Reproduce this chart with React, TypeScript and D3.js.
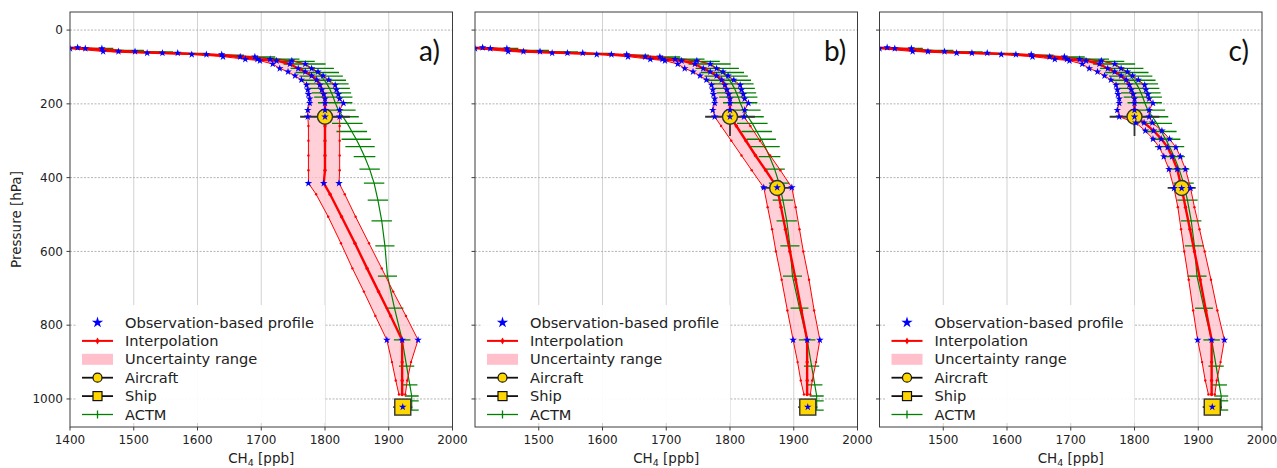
import React from "react";
import * as d3 from "d3";

const W = 1277;
const H = 468;
const TOP = 12;
const BOTTOM = 427;
const PW = 382.5;
const FONT = "'DejaVu Sans', sans-serif";

// stratospheric part, identical in the three panels (hPa / ppb)
const topLevels = [47, 50, 58, 62, 66, 72, 79, 83, 92, 104, 113, 124, 135, 149, 162, 174, 186, 198, 217];
const topLow = [1364, 1400, 1452, 1521, 1591, 1640, 1675, 1698, 1718, 1729, 1742, 1753, 1763, 1771, 1773, 1774, 1776, 1776, 1773];
const topMid = [1388, 1424, 1476, 1545, 1614, 1667, 1694, 1724, 1745, 1758, 1769, 1779, 1787, 1792, 1795, 1798, 1800, 1800, 1800];
const topHigh = [1412, 1450, 1502, 1569, 1638, 1690, 1714, 1748, 1769, 1779, 1789, 1797, 1806, 1816, 1818, 1821, 1823, 1829, 1823];

// panel a
const levelsA = [235, 260, 300, 340, 380, 415, 445, 506, 578, 646, 709, 775, 840, 900, 950, 988];
const lowA = [1773, 1774, 1774, 1774, 1774, 1774, 1786, 1805, 1825, 1843, 1861, 1879, 1897, 1905, 1911, 1916];
const midA = [1800, 1800, 1800, 1800, 1800, 1798, 1808, 1826, 1847, 1866, 1884, 1903, 1921, 1921, 1921, 1921];
const highA = [1823, 1823, 1823, 1823, 1823, 1822, 1831, 1848, 1869, 1889, 1907, 1927, 1946, 1935, 1929, 1926];
const starsA = [235, 415, 840];

// panel b
const levelsB = [235, 260, 300, 340, 380, 427, 480, 540, 600, 677, 760, 840, 900, 950, 988];
const lowB = [1776, 1786, 1802, 1818, 1834, 1853, 1859, 1866, 1872, 1881, 1890, 1899, 1906, 1911, 1916];
const midB = [1800, 1810, 1825, 1840, 1856, 1874, 1880, 1887, 1894, 1903, 1912, 1921, 1921, 1921, 1921];
const highB = [1822, 1832, 1847, 1863, 1879, 1897, 1903, 1909, 1915, 1924, 1932, 1941, 1935, 1929, 1926];
const starsB = [235, 427, 840];

// panel c
const levelsC = [235, 251, 273, 295, 318, 343, 377, 429, 480, 540, 600, 677, 760, 840, 900, 950, 988];
const lowC = [1776, 1802, 1817, 1829, 1839, 1846, 1854, 1862, 1868, 1873, 1878, 1885, 1892, 1899, 1906, 1911, 1916];
const midC = [1800, 1815, 1830, 1842, 1852, 1859, 1867, 1874, 1880, 1887, 1894, 1903, 1912, 1921, 1921, 1921, 1921];
const highC = [1823, 1828, 1843, 1855, 1865, 1872, 1880, 1888, 1894, 1902, 1910, 1920, 1930, 1941, 1935, 1929, 1926];
const starsC = [235, 251, 273, 295, 318, 343, 377, 429, 840];

// ACTM model profile
const actmLevels = [50, 55, 59, 63, 68, 73, 79, 85, 92, 104, 115, 125, 136, 146, 158, 170, 182, 197, 217, 235, 253, 275, 296, 316, 343, 377, 415, 461, 517, 585, 667, 754, 840, 911, 962, 992, 1005, 1030];
const actmValues = [1434, 1480, 1525, 1578, 1640, 1690, 1728, 1752, 1768, 1780, 1788, 1794, 1799, 1803, 1807, 1810, 1813, 1816, 1821, 1828, 1835, 1842, 1849, 1855, 1862, 1870, 1877, 1883, 1889, 1894, 1898, 1909, 1921, 1928, 1933, 1936, 1936, 1936];
const actmSpread = [34, 36, 37, 36, 33, 32, 32, 32, 33, 34, 34, 34, 34, 34, 32, 31, 30, 27, 27, 25, 24, 24, 23, 23, 17, 16, 16, 16, 16, 15, 15, 14, 13, 12, 12, 11, 11, 11];

// aircraft and ship observations
const aircraftP = [235, 428];
const aircraftV = [1800, 1874];
const aircraftXerr = [39, 25];
const aircraftYerr = [52, 0];
const shipP = 1022;
const shipV = 1922;
const shipXerr = 15;

const xTicks = [1400, 1500, 1600, 1700, 1800, 1900, 2000];
const yTicks = [0, 200, 400, 600, 800, 1000];
const panelLabels = ["a)", "b)", "c)"];
const panelLefts = [70, 475, 879.5];
const legendLabels = ["Observation-based profile", "Interpolation", "Uncertainty range", "Aircraft", "Ship", "ACTM"];

const RED = "#ff0000";
const GREEN = "#008000";
const BLUE = "#0000ff";
const GOLD = "#ffd700";
const DARK = "#333333";

const starPath = d3.symbol(d3.symbolStar, 18)();
const starPathLegend = d3.symbol(d3.symbolStar, 40)();

function Panel({ idx, levels, low, mid, high, starLevels, nAircraft }) {
  const left = panelLefts[idx];
  const x = d3.scaleLinear().domain([1400, 2000]).range([left, left + PW]);
  const y = d3.scaleLinear().domain([-49, 1076]).range([TOP, BOTTOM]);

  const rows = topLevels
    .map((p, i) => ({ p, lo: topLow[i], mid: topMid[i], hi: topHigh[i] }))
    .concat(levels.map((p, i) => ({ p, lo: low[i], mid: mid[i], hi: high[i] })));

  const band = d3.area().x0((d) => x(d.lo)).x1((d) => x(d.hi)).y((d) => y(d.p))(rows);
  const lineFor = (k) => d3.line().x((d) => x(d[k])).y((d) => y(d.p))(rows);

  const actm = actmLevels.map((p, i) => ({ p, v: actmValues[i], s: actmSpread[i] }));
  const actmPath = d3.line().x((d) => x(d.v)).y((d) => y(d.p))(actm);

  const starRows = rows.filter((r) => topLevels.includes(r.p) || starLevels.includes(r.p));
  const clipId = `clip-${idx}`;
  const isFirst = idx === 0;
  const ticksX = isFirst ? xTicks : xTicks.slice(1);

  const aircraft = aircraftP.slice(0, nAircraft).map((p, i) => ({
    p,
    v: aircraftV[i],
    xe: idx === 2 && i === 1 ? 22 : aircraftXerr[i],
    ye: aircraftYerr[i],
  }));

  const lgX = left + 6;
  const lgTop = 305;
  const rowY = (i) => 322.5 + i * 18.4;
  const hx0 = left + 12;
  const hx1 = left + 43;
  const hxc = (hx0 + hx1) / 2;

  return (
    <g>
      <defs>
        <clipPath id={clipId}>
          <rect x={left} y={TOP} width={PW} height={BOTTOM - TOP} />
        </clipPath>
      </defs>
      {/* grid */}
      {xTicks.slice(1, -1).map((t) => (
        <line key={"gx" + t} x1={x(t)} x2={x(t)} y1={TOP} y2={BOTTOM} stroke="#d2d2d2" strokeWidth={1} />
      ))}
      {yTicks.map((t) => (
        <line key={"gy" + t} x1={left} x2={left + PW} y1={y(t)} y2={y(t)} stroke="#b4b4b4" strokeWidth={1} strokeDasharray="2,1.5" />
      ))}

      <g clipPath={`url(#${clipId})`}>
        <path d={band} fill="pink" fillOpacity={0.75} stroke="none" />
        {/* ACTM */}
        <path d={actmPath} fill="none" stroke={GREEN} strokeWidth={1.2} />
        {actm.map((d, i) => (
          <line key={"ae" + i} x1={x(d.v - d.s)} x2={x(d.v + d.s)} y1={y(d.p)} y2={y(d.p)} stroke={GREEN} strokeWidth={1.3} />
        ))}
        {/* aircraft error bars */}
        {aircraft.map((a, i) => (
          <g key={"aerr" + i} stroke={DARK} strokeWidth={1.8}>
            <line x1={x(a.v - a.xe)} x2={x(a.v + a.xe)} y1={y(a.p)} y2={y(a.p)} />
            {a.ye > 0 && <line x1={x(a.v)} x2={x(a.v)} y1={y(a.p - a.ye)} y2={y(a.p + a.ye)} />}
          </g>
        ))}
        <line x1={x(shipV - shipXerr)} x2={x(shipV + shipXerr)} y1={y(shipP)} y2={y(shipP)} stroke={DARK} strokeWidth={1.8} />
        {/* interpolation */}
        <path d={lineFor("lo")} fill="none" stroke={RED} strokeWidth={1} />
        <path d={lineFor("hi")} fill="none" stroke={RED} strokeWidth={1} />
        <path d={lineFor("mid")} fill="none" stroke={RED} strokeWidth={2.4} />
        {rows.map((r, i) => (
          <g key={"rd" + i} fill={RED}>
            <circle cx={x(r.lo)} cy={y(r.p)} r={1.2} />
            <circle cx={x(r.hi)} cy={y(r.p)} r={1.2} />
            <circle cx={x(r.mid)} cy={y(r.p)} r={1.7} />
          </g>
        ))}
        {/* aircraft & ship markers */}
        {aircraft.map((a, i) => (
          <circle key={"ac" + i} cx={x(a.v)} cy={y(a.p)} r={7.5} fill={GOLD} stroke={DARK} strokeWidth={1.4} />
        ))}
        <rect x={x(shipV) - 8} y={y(shipP) - 8} width={16} height={16} fill={GOLD} stroke={DARK} strokeWidth={1.4} />
        {/* observation-based profile */}
        {starRows.map((r, i) => (
          <g key={"st" + i} fill={BLUE}>
            <path d={starPath} transform={`translate(${x(r.lo)},${y(r.p)})`} />
            <path d={starPath} transform={`translate(${x(r.mid)},${y(r.p)})`} />
            <path d={starPath} transform={`translate(${x(r.hi)},${y(r.p)})`} />
          </g>
        ))}
        <path d={starPath} fill={BLUE} transform={`translate(${x(shipV)},${y(shipP)})`} />
      </g>

      {/* frame */}
      <rect x={left} y={TOP} width={PW} height={BOTTOM - TOP} fill="none" stroke="#3c3c3c" strokeWidth={1} />

      {/* x axis */}
      {ticksX.map((t) => (
        <g key={"xt" + t}>
          <line x1={x(t)} x2={x(t)} y1={BOTTOM} y2={BOTTOM + 3.5} stroke="#3c3c3c" />
          <text x={x(t)} y={443.5} textAnchor="middle" fontSize={12} fontFamily={FONT} fill="#222">
            {t}
          </text>
        </g>
      ))}
      <text x={left + PW / 2} y={462.5} textAnchor="middle" fontSize={13.5} fontFamily={FONT} fill="#222">
        CH
        <tspan fontSize={9.5} dy={3}>4</tspan>
        <tspan dy={-3}> [ppb]</tspan>
      </text>

      {/* y axis */}
      {yTicks.map((t) => (
        <g key={"yt" + t}>
          <line x1={left - 3.5} x2={left} y1={y(t)} y2={y(t)} stroke="#3c3c3c" />
          {isFirst && (
            <text x={left - 7} y={y(t) + 4.3} textAnchor="end" fontSize={12} fontFamily={FONT} fill="#222">
              {t}
            </text>
          )}
        </g>
      ))}
      {isFirst && (
        <text transform={`translate(${left - 49},${(TOP + BOTTOM) / 2}) rotate(-90)`} textAnchor="middle" fontSize={13.5} fontFamily={FONT} fill="#222">
          Pressure [hPa]
        </text>
      )}

      {/* panel label */}
      <text x={left + 349} y={61} fontSize={28} fontFamily="Lato, 'Open Sans', sans-serif" fill="#111">
        {panelLabels[idx]}
      </text>

      {/* legend */}
      <rect x={lgX} y={lgTop} width={249} height={BOTTOM - lgTop - 4} fill="#ffffff" fillOpacity={0.92} />
      <path d={starPathLegend} fill={BLUE} transform={`translate(${hxc},${rowY(0)})`} />
      <line x1={hx0} x2={hx1} y1={rowY(1)} y2={rowY(1)} stroke={RED} strokeWidth={2} />
      <path d={d3.symbol(d3.symbolDiamond, 14)()} fill={RED} transform={`translate(${hxc},${rowY(1)})`} />
      <rect x={hx0} y={rowY(2) - 5.5} width={hx1 - hx0} height={11} fill="pink" />
      <line x1={hx0} x2={hx1} y1={rowY(3)} y2={rowY(3)} stroke="#111" strokeWidth={1.8} />
      <circle cx={hxc} cy={rowY(3)} r={4.5} fill={GOLD} stroke="#111" strokeWidth={1.2} />
      <line x1={hx0} x2={hx1} y1={rowY(4)} y2={rowY(4)} stroke="#111" strokeWidth={1.8} />
      <rect x={hxc - 4.5} y={rowY(4) - 4.5} width={9} height={9} fill={GOLD} stroke="#111" strokeWidth={1.2} />
      <line x1={hx0} x2={hx1} y1={rowY(5)} y2={rowY(5)} stroke={GREEN} strokeWidth={1.3} />
      <line x1={hxc} x2={hxc} y1={rowY(5) - 4} y2={rowY(5) + 4} stroke={GREEN} strokeWidth={1.3} />
      {legendLabels.map((s, i) => (
        <text key={s} x={left + 55} y={rowY(i) + 5} fontSize={14.6} fontFamily={FONT} fill="#222">
          {s}
        </text>
      ))}
    </g>
  );
}

export default function App() {
  return (
    <svg width={W} height={H} style={{ position: "absolute", left: 0, top: 0, background: "#fff" }}>
      <rect width={W} height={H} fill="#fff" />
      <Panel idx={0} levels={levelsA} low={lowA} mid={midA} high={highA} starLevels={starsA} nAircraft={1} />
      <Panel idx={1} levels={levelsB} low={lowB} mid={midB} high={highB} starLevels={starsB} nAircraft={2} />
      <Panel idx={2} levels={levelsC} low={lowC} mid={midC} high={highC} starLevels={starsC} nAircraft={2} />
    </svg>
  );
}
